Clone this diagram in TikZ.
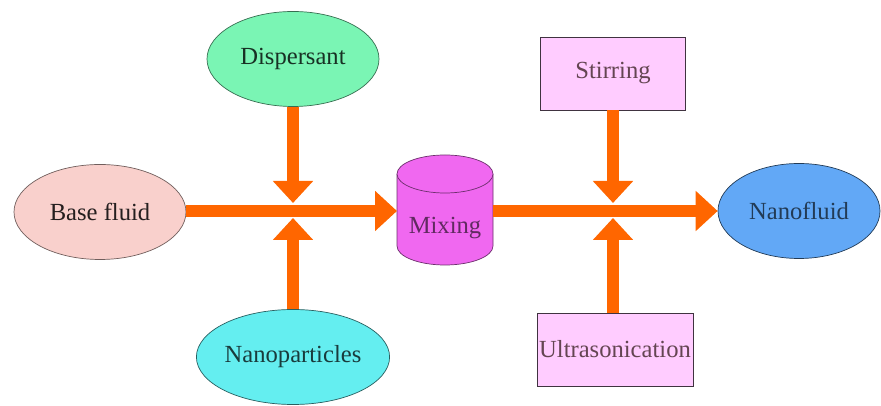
\documentclass[tikz,border=0pt]{standalone}
\usepackage{fontspec}
\setmainfont{Liberation Serif}
\usepackage{tikz}
\usetikzlibrary{shapes.geometric,arrows.meta}
\definecolor{basefill}{RGB}{249,208,204}
\definecolor{dispfill}{RGB}{122,245,180}
\definecolor{partfill}{RGB}{100,238,240}
\definecolor{mixfill}{RGB}{240,104,240}
\definecolor{boxfill}{RGB}{255,204,255}
\definecolor{nanofill}{RGB}{98,168,246}
\definecolor{flow}{RGB}{255,102,0}

\begin{document}
\begin{tikzpicture}
\tikzset{every node/.style={font=\fontsize{14}{16}\selectfont},
  blob/.style={ellipse,draw,inner sep=0pt,minimum width=3.44cm,minimum height=1.9cm},
  stepbox/.style={rectangle,draw=black!75!boxfill,fill=boxfill,text=black!70!magenta,inner sep=1pt,minimum height=1.46cm},
  feed/.style={flow,line width=0.24cm,-{Triangle[width=0.78cm,length=0.44cm]}}}
\useasboundingbox (0,0) rectangle (17.62,8.12);
% inputs
\node [blob,fill=basefill,draw=black!55!basefill,text=black!85!basefill] (base) at (2.0,3.88) {Base fluid};
\node [blob,fill=dispfill,draw=black!55!dispfill,text=black!80!dispfill] (disp) at (5.86,6.94) {Dispersant};
\node [blob,fill=partfill,draw=black!60!partfill,text=black!75!partfill] (part) at (5.86,0.98) {Nanoparticles};
% mixing tank
\draw [fill=mixfill,draw=black!55!mixfill] (7.94,4.64) -- (7.94,3.2) arc[start angle=180,end angle=360,x radius=0.96,y radius=0.38] -- (9.86,4.64);
\draw [fill=mixfill,draw=black!55!mixfill] (8.9,4.64) ellipse (0.96 and 0.38);
\node [text=black!60!mixfill] (mix) at (8.9,3.56) {Mixing};
\coordinate (mixin) at (7.94,3.9);
\coordinate (mixout) at (9.86,3.9);
% treatment steps
\node [stepbox,minimum width=2.9cm] (stir) at (12.26,6.65) {Stirring};
\node [stepbox,minimum width=3.12cm] (sonic) at (12.3,1.13) {Ultrasonication};
\node [blob,minimum width=3.24cm,fill=nanofill,draw=black!65!nanofill,text=black!65!nanofill] (fluid) at (15.98,3.9) {Nanofluid};
% junctions
\coordinate (jltop) at (5.86,4.06);
\coordinate (jlbot) at (5.86,3.76);
\coordinate (jrtop) at (12.26,4.06);
\coordinate (jrbot) at (12.26,3.76);
% arrows
\draw [feed] (base.east |- mixin) -- (mixin);
\draw [feed] (disp.south) -- (jltop);
\draw [feed] (part.north) -- (jlbot);
\draw [feed] (mixout) -- (fluid.west);
\draw [feed] (stir.south) -- (jrtop);
\draw [feed] (sonic.north -| jrbot) -- (jrbot);
\end{tikzpicture}
\end{document}
